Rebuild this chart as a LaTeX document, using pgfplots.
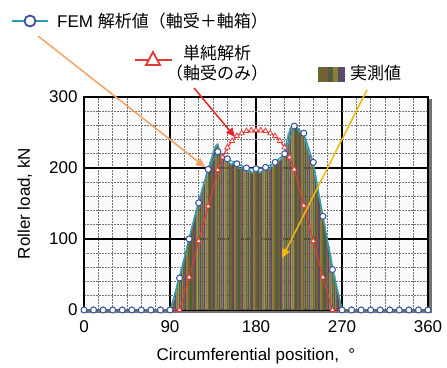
\documentclass[border=0pt]{standalone}
\usepackage{pgfplots}
\pgfplotsset{compat=1.18}
\usepackage{fontspec}
\setmainfont{Liberation Sans}
\newfontfamily\jp{Noto Sans CJK JP}
\usetikzlibrary{arrows.meta}
\definecolor{femline}{HTML}{2E9BB5}
\definecolor{femmark}{HTML}{3A4FA0}
\definecolor{simred}{HTML}{E23A35}
\definecolor{envteal}{HTML}{3FA6B5}
\definecolor{sA}{HTML}{6E6430}
\definecolor{sB}{HTML}{4E5C40}
\definecolor{sC}{HTML}{7A5E35}
\definecolor{sD}{HTML}{5A4C66}
\definecolor{sE}{HTML}{8C7E3A}
\definecolor{arrorange}{HTML}{F4A261}
\definecolor{arryellow}{HTML}{F2B705}
\definecolor{arrred}{HTML}{E3262B}
\begin{document}
\begin{tikzpicture}[x=1pt,y=1pt]
\useasboundingbox (-84,-57) rectangle (363,310);
\fill[black!55] (344,-3) rectangle (348,211);
\fill[black!55] (2,-3) rectangle (348,0);
\begin{axis}[
 at={(0,0)}, anchor=south west,
 scale only axis, width=344pt, height=213pt,
 xmin=0,xmax=360,ymin=0,ymax=300,
 xtick={0,90,180,270,360}, ytick={0,100,200,300},
 minor x tick num=5, minor y tick num=4,
 grid=both,
 major grid style={black, line width=1.2pt},
 minor grid style={black!55, line width=0.9pt, dash pattern=on 2pt off 1pt},
 major tick length=0pt, minor tick length=0pt,
 axis line style={black, line width=1.5pt},
 axis background/.style={fill=black!2},
 tick label style={font=\fontsize{17}{17}\selectfont},
 xticklabel style={yshift=-7pt},
 yticklabel style={xshift=-3pt},
 label style={font=\fontsize{17}{17}\selectfont},
 /pgf/number format/assume math mode=true,
 xlabel={Circumferential position,\ \ °},
 ylabel={Roller load,\ kN},
 x label style={at={(axis description cs:0.5,-0.215)},anchor=center},
 y label style={at={(axis description cs:-0.172,0.5)},anchor=center},
 clip=false,
]
% measured (stripes)
\addplot[ybar, bar width=2, bar shift=0pt, fill=sA, draw=none] coordinates {(90,0)(100,48)(110,101)(120,153)(130,200)(140,234)(150,213)(160,205)(170,198)(180,194)(190,197)(200,206)(210,224)(220,262)(230,246)(240,205)(250,132)(260,62)(270,3)};
\addplot[ybar, bar width=2, bar shift=0pt, fill=sB, draw=none] coordinates {(92,5)(102,58)(112,112)(122,162)(132,208)(142,225)(152,208)(162,200)(172,195)(182,197)(192,200)(202,205)(212,236)(222,259)(232,238)(242,190)(252,118)(262,48)};
\addplot[ybar, bar width=2, bar shift=0pt, fill=sC, draw=none] coordinates {(94,15)(104,68)(114,122)(124,172)(134,216)(144,218)(154,205)(164,199)(174,197)(184,193)(194,198)(204,210)(214,248)(224,255)(234,228)(244,175)(254,104)(264,36)};
\addplot[ybar, bar width=2, bar shift=0pt, fill=sD, draw=none] coordinates {(96,27)(106,80)(116,133)(126,181)(136,226)(146,214)(156,207)(166,202)(176,193)(186,196)(196,203)(206,212)(216,256)(226,250)(236,220)(246,160)(256,90)(266,24)};
\addplot[ybar, bar width=2, bar shift=0pt, fill=sE, draw=none] coordinates {(98,38)(108,90)(118,143)(128,190)(138,232)(148,212)(158,203)(168,196)(178,196)(188,198)(198,202)(208,218)(218,261)(228,247)(238,213)(248,146)(258,77)(268,12)};
% measured envelope
\addplot[envteal, line width=1.2pt, no marks] coordinates {(90,0)(92,5)(94,15)(96,27)(98,38)(100,48)(102,58)(104,68)(106,80)(108,90)(110,101)(112,112)(114,122)(116,133)(118,143)(120,153)(122,162)(124,172)(126,181)(128,190)(130,200)(132,208)(134,216)(136,226)(138,232)(140,234)(142,225)(144,218)(146,214)(148,212)(150,213)(152,208)(154,205)(156,207)(158,203)(160,205)(162,200)(164,199)(166,202)(168,196)(170,198)(172,195)(174,197)(176,193)(178,196)(180,194)(182,197)(184,193)(186,196)(188,198)(190,197)(192,200)(194,198)(196,203)(198,202)(200,206)(202,205)(204,210)(206,212)(208,218)(210,224)(212,236)(214,248)(216,256)(218,261)(220,262)(222,259)(224,255)(226,250)(228,247)(230,246)(232,238)(234,228)(236,220)(238,213)(240,205)(242,190)(244,175)(246,160)(248,146)(250,132)(252,118)(254,104)(256,90)(258,77)(260,62)(262,48)(264,36)(266,24)(268,12)(270,3)(272,0)};
% simple analysis
\addplot[simred, line width=1.2pt, mark=triangle*, mark size=3pt, mark options={fill=white, line width=0.8pt}] coordinates {(0,0)(10,0)(20,0)(30,0)(40,0)(50,0)(60,0)(70,0)(80,0)(90,0)(100,0)(110,46)(120,97)(130,146)(140,197)(145,215)(150,229)(155,238)(160,245)(165,249)(170,252)(175,253)(180,253)(185,253)(190,252)(195,249)(200,245)(205,238)(210,229)(215,215)(220,198)(230,147)(240,97)(250,46)(260,0)(270,0)(280,0)(290,0)(300,0)(310,0)(320,0)(330,0)(340,0)(350,0)(360,0)};
% FEM
\addplot[femline, line width=1.2pt, mark=*, mark size=3pt, mark options={draw=femmark, fill=white, line width=1pt}] coordinates {(0,0)(10,0)(20,0)(30,0)(40,0)(50,0)(60,0)(70,0)(80,0)(90,0)(100,45)(110,100)(120,151)(130,198)(140,223)(150,213)(160,206)(170,200)(180,199)(190,201)(200,208)(210,220)(220,259)(230,249)(240,208)(250,132)(260,57)(270,0)(280,0)(290,0)(300,0)(310,0)(320,0)(330,0)(340,0)(350,0)(360,0)};
\end{axis}
% arrows
\draw[arrorange, line width=1.5pt, -{Triangle[length=9pt,width=8pt]}] (-46,274) -- (121,143);
\draw[arrred, line width=1.5pt, -{Triangle[length=9pt,width=8pt]}] (110,222) -- (151,173);
\draw[arryellow, line width=1.5pt, -{Triangle[length=9pt,width=8pt]}] (283,220) -- (198,52);
% legend: FEM
\draw[femline, line width=1.8pt] (-72,289) -- (-36,289);
\draw[femmark, line width=1.8pt, fill=white] (-54,289) circle (5.5);
\node[anchor=west, inner sep=0pt, font=\fontsize{17}{17}\selectfont] at (-27,289) {FEM {\jp 解析値（軸受＋軸箱）}};
% legend: simple
\draw[simred, line width=1.8pt] (51,250) -- (88,250);
\draw[simred, line width=1.8pt, fill=white] (62,245) -- (76,245) -- (69,258) -- cycle;
\node[inner sep=0pt, font=\fontsize{17}{17}\jp] at (133,257) {単純解析};
\node[inner sep=0pt, font=\fontsize{17}{17}\jp] at (133,237) {（軸受のみ）};
% legend: measured
\fill[sA] (234,228) rectangle (239,243);
\fill[sC] (239,228) rectangle (244,243);
\fill[sB] (244,228) rectangle (249,243);
\fill[sE] (249,228) rectangle (254,243);
\fill[sD] (254,228) rectangle (261,243);
\node[anchor=west, inner sep=0pt, font=\fontsize{17}{17}\jp] at (266,237) {実測値};
\end{tikzpicture}
\end{document}
